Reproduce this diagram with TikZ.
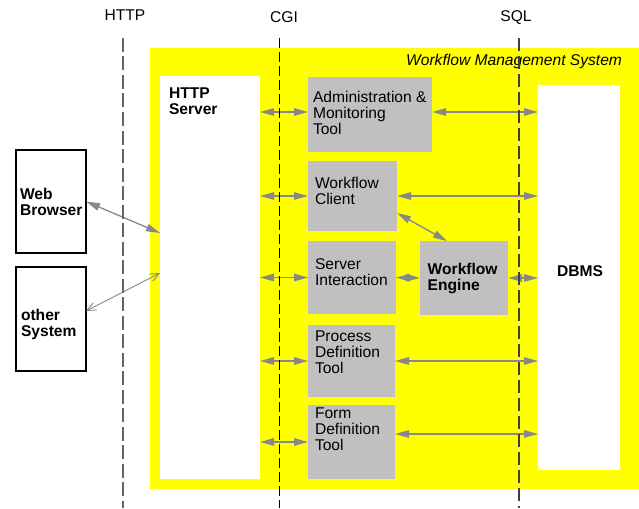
\documentclass[tikz,border=0pt]{standalone}
\usepackage{fontspec}
\setmainfont{Liberation Sans}
\usetikzlibrary{arrows.meta}

\definecolor{wmsyellow}{HTML}{FFFF00}
\definecolor{boxgray}{HTML}{C0C0C0}
\definecolor{linkgray}{HTML}{888888}

\begin{document}
\begin{tikzpicture}[x=1pt,y=1pt,yscale=-1,xscale=1,
  every node/.style={font=\fontsize{15.6}{16}\selectfont, inner sep=0pt, outer sep=0pt},
  box/.style={anchor=north west},
  compbox/.style={box, fill=boxgray},
  srvbox/.style={box, fill=white},
  extbox/.style={box, draw=black, line width=1.1pt, fill=white},
  txt/.style={anchor=north west, align=left},
  link/.style={{Triangle[length=14pt,width=7.5pt]}-{Triangle[length=14pt,width=7.5pt]}, draw=linkgray, line width=1.3pt},
  thinlink/.style={{Straight Barb[length=9pt,width=8pt]}-{Straight Barb[length=9pt,width=8pt]}, draw=linkgray, line width=0.9pt},
  httpsep/.style={draw=black!60, line width=1.3pt, dash pattern=on 14pt off 4.5pt},
  cgisep/.style={draw=black, line width=0.9pt, dash pattern=on 10pt off 4pt},
  sqlsep/.style={draw=black!75, line width=1.3pt, dash pattern=on 13pt off 5pt}]
\useasboundingbox (0,0) rectangle (639,508);

%Shape: Rectangle [workflow management system]
\fill [wmsyellow] (150,48) rectangle (639,489);
% Text Node
\node (wmslbl) [anchor=east] at (622,61) {\itshape Workflow Management System};

%Shape: Rectangle [servers]
\node (http) [srvbox, minimum width=100, minimum height=403] at (160,76) {};
\node (dbms) [srvbox, minimum width=82, minimum height=385] at (538,85) {};

%Shape: Rectangle [components]
\node (admin) [compbox, minimum width=124, minimum height=75] at (308,77) {};
\node (client) [compbox, minimum width=89, minimum height=70] at (308,161) {};
\node (inter) [compbox, minimum width=88, minimum height=73] at (308,241) {};
\node (engine) [compbox, minimum width=88, minimum height=74] at (420,241) {};
\node (process) [compbox, minimum width=87, minimum height=72] at (308,325) {};
\node (form) [compbox, minimum width=87, minimum height=74] at (308,405) {};

%Shape: Rectangle [clients outside]
\node (web) [extbox, minimum width=70, minimum height=103] at (16,150) {};
\node (other) [extbox, minimum width=70, minimum height=104] at (16,267) {};

% Text Node
\node (httptxt) [txt] at (169,87.4) {\bfseries HTTP\\\bfseries Server};
% Text Node
\node (dbmstxt) at (580,271) {\bfseries DBMS};
% Text Node
\node (admintxt) [txt] at (313,91.4) {Administration \&\\Monitoring\\Tool};
% Text Node
\node (clienttxt) [txt] at (315,177) {Workflow\\Client};
% Text Node
\node (intertxt) [txt] at (315,258.4) {Server\\Interaction};
% Text Node
\node (enginetxt) [txt] at (427.7,263.4) {\bfseries Workflow\\\bfseries Engine};
% Text Node
\node (processtxt) [txt] at (315,331) {Process\\Definition\\Tool};
% Text Node
\node (formtxt) [txt] at (315,407.4) {Form\\Definition\\Tool};
% Text Node
\node (webtxt) [txt] at (20,188.4) {\bfseries Web\\\bfseries Browser};
% Text Node
\node (othertxt) [txt] at (21,309.4) {\bfseries other\\\bfseries System};

%Straight Lines [connections]
\draw [link] ([yshift=-2.5pt]admin.west -| http.east) -- ([yshift=-2.5pt]admin.west);
\draw [link] ([yshift=-2.5pt]admin.east) -- ([yshift=-2.5pt]admin.east -| dbms.west);
\draw [link] (client.west -| http.east) -- (client.west);
\draw [link] (client.east) -- (client.east -| dbms.west);
\draw [link] ([yshift=-18pt]client.south east) -- ([xshift=-17pt]engine.north);
\draw [link] (inter.west -| http.east) -- (inter.west);
\draw [link] (inter.east) -- (engine.west);
\draw [link] (engine.east) -- (engine.east -| dbms.west);
\draw [link] (process.west -| http.east) -- (process.west);
\draw [link] (process.east) -- (process.east -| dbms.west);
\draw [link] (form.west -| http.east) -- (form.west);
\draw [link] ([yshift=-8pt]form.east) -- ([yshift=-8pt]form.east -| dbms.west);
\draw [link] (web.east) -- ([yshift=-44.5pt]http.west);
\draw [thinlink] ([yshift=-4.5pt]http.west) -- ([yshift=-8pt]other.east);

%Straight Lines [interfaces]
\node (httplbl) at (125,15) {HTTP};
\draw [httpsep] (123,38) -- (123,508);
\node (cgilbl) at (284,17) {CGI};
\draw [cgisep] (279,38) -- (279,508);
\node (sqllbl) at (516,17.5) {SQL};
\draw [sqlsep] (519,38) -- (519,508);

\end{tikzpicture}
\end{document}
